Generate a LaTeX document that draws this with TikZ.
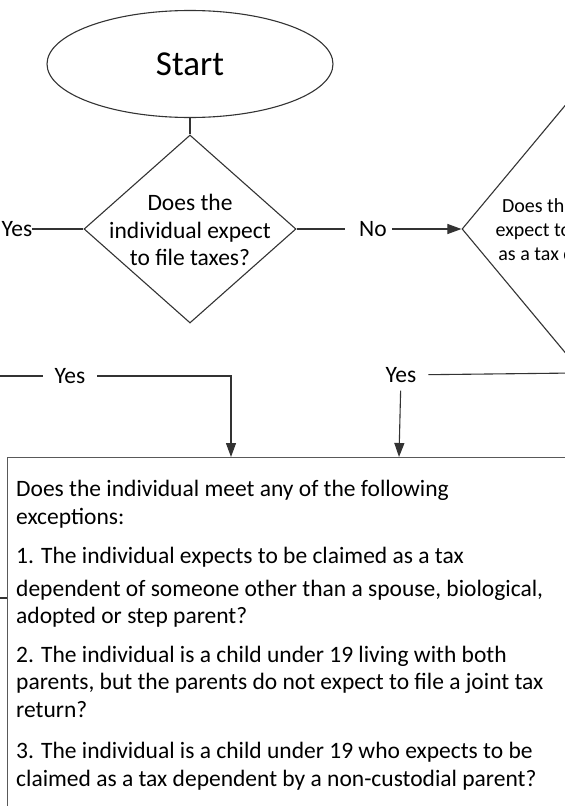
\documentclass[tikz,border=0pt]{standalone}
\usepackage{fontspec}
\setmainfont{Carlito}
\usetikzlibrary{shapes.geometric, arrows.meta, positioning}

\begin{document}
\begin{tikzpicture}[
  x=1pt, y=-1pt,
  conn/.style={draw=black!80, line width=1.1pt},
  arrow/.style={conn, -{Triangle[length=14pt, width=10pt]}},
  startblock/.style={ellipse, draw=black!80, line width=1.1pt,
                     minimum width=286pt, minimum height=107pt, inner sep=0pt,
                     font=\fontsize{35}{40}\selectfont},
  decblock/.style={diamond, draw=black!80, line width=1.1pt, inner sep=0pt},
  dectext/.style={align=center, inner sep=0pt,
                  font=\fontsize{23.5}{27.5}\selectfont},
  lbl/.style={inner sep=0pt, outer xsep=12pt, outer ysep=8pt,
              font=\fontsize{23.5}{27.5}\selectfont},
  excblock/.style={rectangle, draw=black!65, line width=1.4pt, anchor=north west,
                   minimum width=700pt, minimum height=420pt},
  exctext/.style={align=left, inner sep=0pt, anchor=north west,
                  font=\fontsize{23.5}{27.5}\selectfont}
]
\useasboundingbox (0,0) rectangle (565,806);
\clip (0,0) rectangle (565,806);

% Row Y=64: Start
\node[startblock] (start) at (190,64) {Start};

% Row Y=229: the two decisions
\node[decblock, minimum width=212pt, minimum height=188pt] (q1) at (190,229) {};
\node[dectext] (q1txt) at (190,230) {Does the\\individual expect\\to file taxes?};
\node[decblock, minimum width=300pt, minimum height=360pt] (q2) at (612,229) {};
\node[dectext, font=\fontsize{20}{24}\selectfont] (q2txt) at (580,231)
  {Does the individual\\expect to be claimed\\as a tax dependent?};

% Labels on the connectors
\node[lbl, outer sep=0pt] (yes1) at (17,229) {Yes};
\node[lbl, outer sep=0pt] (no)   at (373,229) {No};
\node[lbl] (yesa) at (70,376) {Yes};
\node[lbl] (yesb) at (401,375) {Yes};

% Row Y=457: exceptions box
\node[excblock] (exc) at (7,457) {};
\node[exctext] (exctxt) at (16,480) {Does the individual meet any of the following\\
  exceptions:\\[12pt]
  1. The individual expects to be claimed as a tax\\[5pt]
  dependent of someone other than a spouse, biological,\\
  adopted or step parent?\\[11pt]
  2. The individual is a child under 19 living with both\\
  parents, but the parents do not expect to file a joint tax\\
  return?\\[14pt]
  3. The individual is a child under 19 who expects to be\\
  claimed as a tax dependent by a non-custodial parent?};

% Ends of connectors that run off the picture
\coordinate (offl)  at (-5,376);
\coordinate (offr)  at (575,373);
\coordinate (offl2) at (-5,598);
\coordinate (ta) at (231,457);
\coordinate (tb) at (399,457);

% --- Arrows ---
\draw[conn] (start) -- (q1);
\draw[conn] (yes1) -- (q1);
\draw[conn] (q1) -- ([xshift=-14pt]no.west);
\draw[arrow] ([xshift=5pt]no.east) -- (q2);

% Yes paths into the exceptions box
\draw[conn] (offl) -- (yesa);
\draw[arrow] (yesa) -| (ta);
\draw[conn] (yesb) -- (offr);
\draw[arrow] (yesb) -- (tb);

% Connector entering the box from the left
\draw[conn] (offl2) -- (offl2 -| exc.west);

\end{tikzpicture}
\end{document}
